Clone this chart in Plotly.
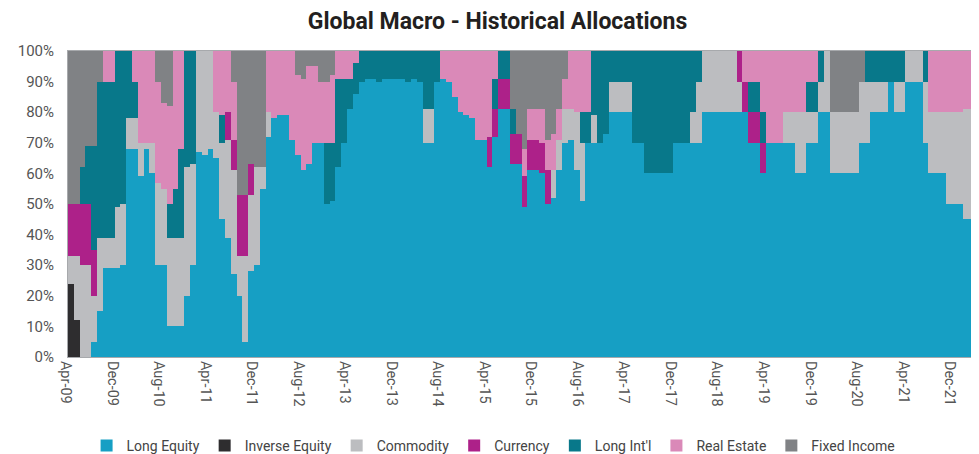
import pandas as pd
import plotly.graph_objects as go

# Monthly allocation (%), Apr-2009 .. Mar-2022 (156 months)
months = [d.strftime("%b-%y") for d in pd.date_range("2009-04-01", "2022-03-01", freq="MS")]

long_equity = [
    0, 0, 0, 0, 5, 15, 29, 29, 29, 30, 68, 68, 59, 68, 60, 30, 30, 10, 10, 10,
    20, 30, 67, 66, 68, 65, 45, 39, 27, 20, 5, 28, 30, 55, 72, 78, 79, 79, 71, 66,
    61, 63, 70, 70, 50, 51, 62, 70, 81, 86, 90, 91, 91, 90, 91, 91, 91, 91, 90, 91,
    90, 70, 70, 90, 91, 90, 85, 80, 79, 78, 71, 71, 62, 72, 81, 81, 63, 63, 49, 61,
    61, 60, 50, 52, 61, 70, 71, 61, 51, 70, 70, 70, 73, 80, 80, 80, 80, 70, 70, 60,
    60, 60, 60, 60, 70, 70, 70, 70, 70, 80, 80, 80, 80, 80, 80, 80, 80, 70, 70, 60,
    70, 70, 70, 70, 70, 60, 60, 70, 70, 80, 80, 60, 60, 60, 60, 60, 70, 70, 80, 80,
    80, 90, 80, 80, 90, 90, 90, 70, 60, 60, 60, 50, 50, 50, 45, 45,
]
inverse_equity = [
    24, 12, 0, 0, 0, 0, 0, 0, 0, 0, 0, 0, 0, 0, 0, 0, 0, 0, 0, 0,
    0, 0, 0, 0, 0, 0, 0, 0, 0, 0, 0, 0, 0, 0, 0, 0, 0, 0, 0, 0,
    0, 0, 0, 0, 0, 0, 0, 0, 0, 0, 0, 0, 0, 0, 0, 0, 0, 0, 0, 0,
    0, 0, 0, 0, 0, 0, 0, 0, 0, 0, 0, 0, 0, 0, 0, 0, 0, 0, 0, 0,
    0, 0, 0, 0, 0, 0, 0, 0, 0, 0, 0, 0, 0, 0, 0, 0, 0, 0, 0, 0,
    0, 0, 0, 0, 0, 0, 0, 0, 0, 0, 0, 0, 0, 0, 0, 0, 0, 0, 0, 0,
    0, 0, 0, 0, 0, 0, 0, 0, 0, 0, 0, 0, 0, 0, 0, 0, 0, 0, 0, 0,
    0, 0, 0, 0, 0, 0, 0, 0, 0, 0, 0, 0, 0, 0, 0, 0,
]
commodity = [
    9, 21, 30, 30, 15, 24, 10, 10, 20, 20, 10, 10, 11, 2, 10, 27, 25, 29, 29, 29,
    42, 33, 33, 34, 32, 15, 25, 32, 34, 13, 28, 25, 32, 7, 8, 0, 0, 0, 0, 0,
    0, 0, 0, 0, 0, 0, 0, 0, 0, 0, 0, 0, 0, 0, 0, 0, 0, 0, 0, 0,
    0, 11, 11, 0, 0, 0, 0, 0, 0, 0, 0, 0, 0, 0, 0, 0, 0, 0, 0, 0,
    0, 0, 0, 9, 10, 11, 10, 19, 19, 0, 9, 0, 0, 10, 10, 10, 10, 0, 0, 0,
    0, 0, 0, 0, 0, 0, 0, 10, 20, 20, 20, 20, 20, 20, 20, 10, 0, 0, 0, 0,
    0, 0, 0, 10, 10, 20, 20, 10, 10, 10, 20, 20, 20, 20, 20, 20, 20, 20, 10, 10,
    10, 0, 10, 10, 10, 10, 10, 20, 20, 20, 20, 30, 30, 30, 36, 36,
]
currency = [
    17, 17, 20, 20, 15, 0, 0, 0, 0, 0, 0, 0, 0, 0, 0, 0, 0, 0, 0, 0,
    0, 0, 0, 0, 0, 0, 0, 9, 10, 20, 20, 10, 0, 0, 0, 0, 0, 0, 0, 0,
    0, 0, 0, 0, 0, 0, 0, 0, 0, 0, 0, 0, 0, 0, 0, 0, 0, 0, 0, 0,
    0, 0, 0, 0, 0, 0, 0, 0, 0, 0, 0, 0, 10, 9, 10, 10, 10, 10, 10, 10,
    10, 10, 11, 0, 0, 0, 0, 0, 0, 0, 0, 0, 0, 0, 0, 0, 0, 0, 0, 0,
    0, 0, 0, 0, 0, 0, 0, 0, 0, 0, 0, 0, 0, 0, 0, 10, 10, 10, 10, 10,
    0, 0, 0, 0, 0, 0, 0, 0, 0, 0, 0, 0, 0, 0, 0, 0, 0, 0, 0, 0,
    0, 0, 0, 0, 0, 0, 0, 0, 0, 0, 0, 0, 0, 0, 0, 0,
]
long_intl = [
    0, 0, 12, 19, 34, 51, 51, 51, 51, 50, 22, 12, 0, 0, 0, 0, 0, 11, 16, 29,
    38, 37, 0, 0, 0, 0, 9, 0, 0, 0, 0, 0, 0, 0, 0, 0, 0, 0, 0, 0,
    0, 0, 0, 0, 20, 19, 29, 21, 10, 10, 10, 9, 9, 10, 9, 9, 9, 9, 10, 9,
    10, 19, 19, 10, 0, 0, 0, 0, 0, 0, 0, 0, 0, 10, 9, 9, 8, 0, 0, 0,
    0, 0, 0, 0, 0, 0, 0, 0, 10, 10, 21, 30, 27, 10, 10, 10, 10, 30, 30, 40,
    40, 40, 40, 40, 30, 30, 30, 20, 10, 0, 0, 0, 0, 0, 0, 0, 0, 10, 10, 10,
    0, 0, 0, 0, 0, 0, 0, 10, 10, 10, 0, 0, 0, 0, 0, 0, 0, 10, 10, 10,
    10, 10, 10, 10, 0, 0, 0, 10, 0, 0, 0, 0, 0, 0, 0, 0,
]
real_estate = [
    0, 0, 0, 0, 0, 0, 10, 10, 0, 0, 0, 10, 30, 30, 30, 33, 28, 32, 45, 32,
    0, 0, 0, 0, 0, 20, 21, 20, 19, 0, 0, 0, 0, 0, 20, 22, 21, 21, 29, 26,
    30, 32, 25, 20, 20, 22, 9, 9, 9, 4, 0, 0, 0, 0, 0, 0, 0, 0, 0, 0,
    0, 0, 0, 0, 9, 10, 15, 20, 21, 22, 29, 29, 28, 9, 0, 0, 0, 0, 9, 10,
    10, 11, 10, 12, 10, 10, 19, 20, 20, 20, 0, 0, 0, 0, 0, 0, 0, 0, 0, 0,
    0, 0, 0, 0, 0, 0, 0, 0, 0, 0, 0, 0, 0, 0, 0, 0, 10, 10, 10, 20,
    30, 30, 30, 20, 20, 20, 20, 10, 10, 0, 0, 0, 0, 0, 0, 0, 0, 0, 0, 0,
    0, 0, 0, 0, 0, 0, 0, 0, 20, 20, 20, 20, 20, 20, 19, 19,
]
fixed_income = [
    50, 50, 38, 31, 31, 10, 0, 0, 0, 0, 0, 0, 0, 0, 0, 10, 17, 18, 0, 0,
    0, 0, 0, 0, 0, 0, 0, 0, 10, 47, 47, 37, 38, 38, 0, 0, 0, 0, 0, 8,
    9, 5, 5, 10, 10, 8, 0, 0, 0, 0, 0, 0, 0, 0, 0, 0, 0, 0, 0, 0,
    0, 0, 0, 0, 0, 0, 0, 0, 0, 0, 0, 0, 0, 0, 0, 0, 19, 27, 32, 19,
    19, 19, 29, 27, 19, 9, 0, 0, 0, 0, 0, 0, 0, 0, 0, 0, 0, 0, 0, 0,
    0, 0, 0, 0, 0, 0, 0, 0, 0, 0, 0, 0, 0, 0, 0, 0, 0, 0, 0, 0,
    0, 0, 0, 0, 0, 0, 0, 0, 0, 0, 0, 20, 20, 20, 20, 20, 10, 0, 0, 0,
    0, 0, 0, 0, 0, 0, 0, 0, 0, 0, 0, 0, 0, 0, 0, 0,
]

tick_labels = ["Apr-09", "Dec-09", "Aug-10", "Apr-11", "Dec-11", "Aug-12", "Apr-13",
               "Dec-13", "Aug-14", "Apr-15", "Dec-15", "Aug-16", "Apr-17", "Dec-17",
               "Aug-18", "Apr-19", "Dec-19", "Aug-20", "Apr-21", "Dec-21"]

series = [
    ("Long Equity", long_equity, "#169fc4"),
    ("Inverse Equity", inverse_equity, "#2e2d2f"),
    ("Commodity", commodity, "#bcbdc0"),
    ("Currency", currency, "#ad2189"),
    ("Long Int'l", long_intl, "#08788a"),
    ("Real Estate", real_estate, "#da89b8"),
    ("Fixed Income", fixed_income, "#808285"),
]

# month position on a numeric axis; ticks sit on the start of each labelled month
xpos = list(range(len(months)))
tick_pos = [months.index(t) - 0.5 for t in tick_labels]

fig = go.Figure()
for name, vals, color in series:
    fig.add_trace(go.Bar(
        x=xpos, y=vals, name=name, customdata=months,
        marker=dict(color=color, line=dict(width=0)),
        hovertemplate="%{customdata}: %{y}%<extra>" + name + "</extra>",
    ))

fig.update_layout(
    width=979, height=454,
    barmode="stack", bargap=0,
    paper_bgcolor="white", plot_bgcolor="white",
    margin=dict(l=60, r=12, t=43, b=105, autoexpand=False),
    title=dict(text="Global Macro - Historical Allocations", x=0.5, xanchor="center",
               xref="container", y=0.99, yanchor="top", automargin=False,
               font=dict(family="Roboto, sans-serif", size=23,
                         color="#231f20", weight="bold")),
    font=dict(family="Roboto, sans-serif", size=13, color="#555555"),
    legend=dict(orientation="h", x=0.496, xanchor="center", xref="container",
                y=0.0, yanchor="bottom", yref="container", traceorder="normal",
                font=dict(family="Roboto, sans-serif", size=14, color="#444444"),
                itemwidth=30, tracegroupgap=0),
    xaxis=dict(tickmode="array", tickvals=tick_pos, ticktext=tick_labels,
               tickangle=90, showgrid=False, showline=True, linecolor="#a7a9ac", linewidth=1,
               mirror=True, ticks="", range=[-0.5, len(months) - 0.5], zeroline=False,
               automargin=False, ticklabelshift=-2, tickfont=dict(size=14.5, color="#555555")),
    yaxis=dict(range=[0, 100], dtick=10, ticksuffix="%", showgrid=True, gridcolor="#e0e0e0",
               showline=True, linecolor="#a7a9ac", linewidth=1, mirror=True, ticks="",
               zeroline=False, ticklabelstandoff=10, automargin=False,
               tickfont=dict(size=15, color="#555555")),
)

fig.write_html("out.html")
